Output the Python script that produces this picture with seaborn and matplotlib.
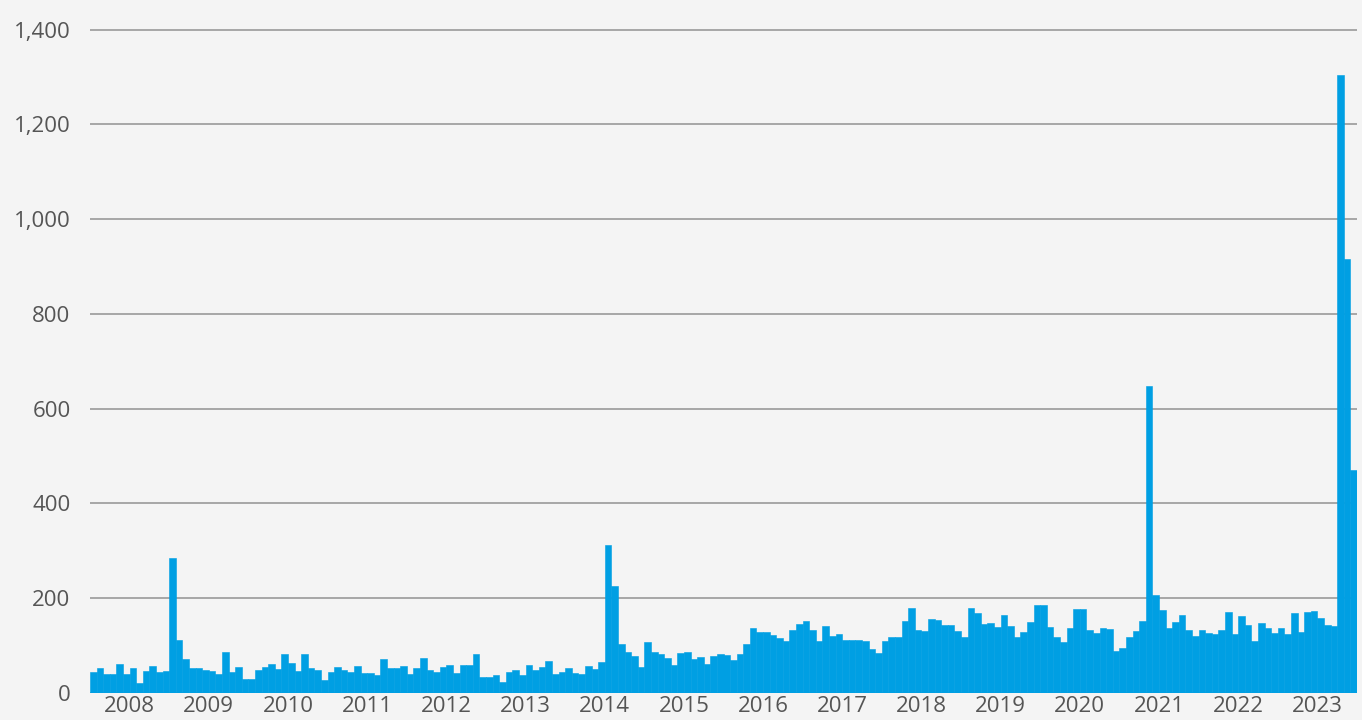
import pandas as pd
import matplotlib.pyplot as plt
import seaborn as sns

# monthly values, Jan 2008 - Dec 2023 (one row per year)
years = list(range(2008, 2024))
monthly_counts = [
    44, 53, 40, 40, 61, 40, 53, 21, 46, 57, 44, 46,         # 2008
    285, 112, 72, 53, 53, 49, 46, 40, 87, 44, 55, 30,       # 2009
    30, 49, 55, 61, 51, 82, 63, 46, 82, 53, 49, 27,         # 2010
    44, 55, 49, 44, 57, 42, 42, 38, 72, 53, 53, 57,         # 2011
    40, 53, 74, 49, 44, 55, 59, 42, 59, 59, 82, 34,         # 2012
    34, 38, 23, 44, 49, 38, 59, 49, 55, 68, 40, 44,         # 2013
    53, 42, 40, 57, 51, 65, 313, 226, 103, 87, 78, 55,      # 2014
    108, 87, 82, 74, 59, 84, 87, 72, 76, 61, 78, 82,        # 2015
    80, 70, 82, 103, 137, 129, 129, 122, 116, 110, 133, 146,  # 2016
    152, 133, 110, 141, 120, 125, 112, 112, 112, 110, 93, 84,  # 2017
    110, 118, 118, 152, 180, 133, 131, 156, 154, 144, 144, 131,  # 2018
    118, 180, 169, 146, 148, 139, 165, 141, 118, 129, 150, 186,  # 2019
    186, 139, 118, 108, 137, 177, 177, 133, 127, 137, 135, 89,   # 2020
    95, 118, 131, 152, 648, 207, 175, 137, 150, 165, 133, 120,   # 2021
    133, 127, 125, 133, 171, 125, 163, 144, 110, 148, 137, 127,  # 2022
    137, 125, 169, 129, 171, 173, 158, 144, 141, 1305, 915, 470,  # 2023
]
y_ticks = [0, 200, 400, 600, 800, 1000, 1200, 1400]

df = pd.DataFrame({
    "month": pd.date_range("2008-01-01", periods=len(monthly_counts), freq="MS"),
    "count": monthly_counts,
})

bg = "#f4f4f4"
blue = "#009fe3"
text_grey = "#555555"

sns.set_theme(style="white")
plt.rcParams["font.family"] = ["Open Sans", "DejaVu Sans"]

fig = plt.figure(figsize=(13.62, 7.2), dpi=100, facecolor=bg)
ax = fig.add_axes([90 / 1362, 27 / 720, 1267 / 1362, 672 / 720])
ax.set_facecolor(bg)

sns.barplot(data=df, x="month", y="count", color=blue, width=1.0,
            saturation=1, linewidth=0.4, edgecolor=blue, ax=ax)

ax.set_xlim(-0.5, len(monthly_counts) - 0.5)
ax.set_ylim(0, 1418)
ax.set_yticks(y_ticks)
ax.set_yticklabels([f"{v:,}" for v in y_ticks])
ax.set_xticks([i * 12 + 5.5 for i in range(len(years))])
ax.set_xticklabels([str(y) for y in years])

ax.yaxis.grid(True, color="#a0a0a0", linewidth=1.3)
ax.set_axisbelow(True)
for s in ax.spines.values():
    s.set_visible(False)
ax.tick_params(axis="both", length=0, labelsize=16, labelcolor=text_grey)
ax.tick_params(axis="y", pad=14)
ax.tick_params(axis="x", pad=2)
ax.set_xlabel("")
ax.set_ylabel("")

fig.savefig("out.png", dpi=100, facecolor=bg)
